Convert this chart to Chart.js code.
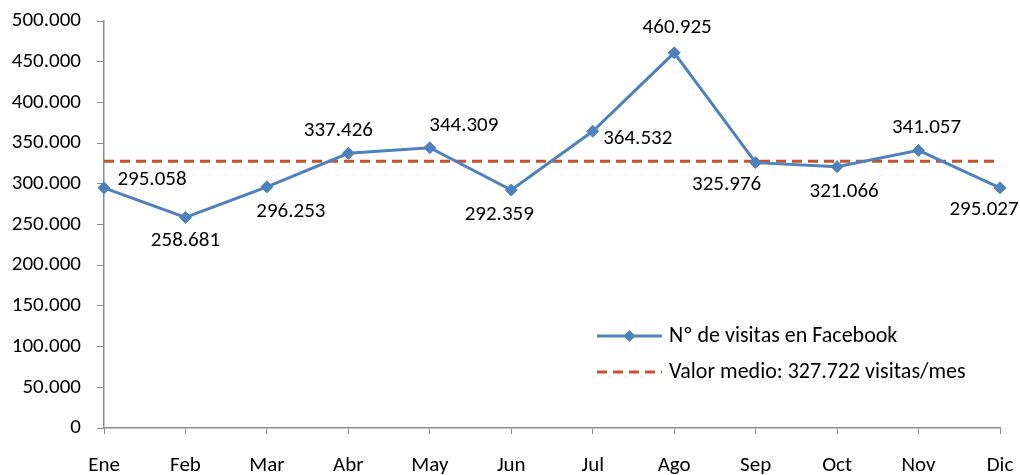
<!DOCTYPE html>
<html>
<head>
<meta charset="utf-8">
<script src="https://cdn.jsdelivr.net/npm/chart.js@4/dist/chart.umd.min.js"></script>
<style>
  html, body { margin: 0; padding: 0; background: #fff; }
  #wrap { width: 1020px; height: 475px; position: relative; }
</style>
</head>
<body>
<div id="wrap"><canvas id="c" width="1020" height="475"></canvas></div>
<script>
const categories = ['Ene', 'Feb', 'Mar', 'Abr', 'May', 'Jun', 'Jul', 'Ago', 'Sep', 'Oct', 'Nov', 'Dic'];
const visitas = [295058, 258681, 296253, 337426, 344309, 292359, 364532, 460925, 325976, 321066, 341057, 295027];
const valorMedio = [327722, 327722, 327722, 327722, 327722, 327722, 327722, 327722, 327722, 327722, 327722, 327722];
const seriesLabels = ['N\u00BA de visitas en Facebook', 'Valor medio: 327.722 visitas/mes'];
const yMin = 0, yMax = 500000, yStep = 50000;

// label placement offsets (pixels) relative to each point
const labelOffsets = [[48, -8], [0, 23], [24, 25], [-10, -23], [34, -22], [-12, 25], [45, 7], [3, -25], [-29, 22], [7, 25], [8, -23], [-16, 22]];

const FONT = '"Carlito", "Liberation Sans", Arial, sans-serif';
const FSIZE = 21;
const LSIZE = 22;
const BLUE = '#4F81BD';
const RED = '#C9522B';
const AXIS = '#8C8C8C';

function fmt(v) {
  return String(Math.round(v)).replace(/\B(?=(\d{3})+(?!\d))/g, '.');
}

const dataLabelPlugin = {
  id: 'dataLabels',
  afterDatasetsDraw(chart) {
    const ctx = chart.ctx;
    const meta = chart.getDatasetMeta(0);
    ctx.save();
    ctx.font = FSIZE + 'px ' + FONT;
    ctx.fillStyle = '#000';
    ctx.textAlign = 'center';
    ctx.textBaseline = 'middle';
    meta.data.forEach((pt, i) => {
      const off = labelOffsets[i];
      ctx.fillText(fmt(visitas[i]), pt.x + off[0], pt.y + off[1]);
    });
    ctx.restore();
  }
};

const legendPlugin = {
  id: 'customLegend',
  afterDraw(chart) {
    const ctx = chart.ctx;
    const x0 = 597, x1 = 662, tx = 669;
    const ys = [336, 372];
    ctx.save();
    ctx.strokeStyle = BLUE; ctx.lineWidth = 3; ctx.setLineDash([]);
    ctx.beginPath(); ctx.moveTo(x0, ys[0]); ctx.lineTo(x1, ys[0]); ctx.stroke();
    const cx = (x0 + x1) / 2, r = 6;
    ctx.fillStyle = BLUE;
    ctx.beginPath(); ctx.moveTo(cx - r, ys[0]); ctx.lineTo(cx, ys[0] - r); ctx.lineTo(cx + r, ys[0]); ctx.lineTo(cx, ys[0] + r); ctx.closePath(); ctx.fill();
    ctx.strokeStyle = RED; ctx.lineWidth = 3; ctx.setLineDash([10, 6]);
    ctx.beginPath(); ctx.moveTo(x0, ys[1]); ctx.lineTo(x1, ys[1]); ctx.stroke();
    ctx.setLineDash([]);
    ctx.font = LSIZE + 'px ' + FONT;
    ctx.fillStyle = '#000';
    ctx.textAlign = 'left';
    ctx.textBaseline = 'middle';
    ctx.fillText(chart.data.datasets[0].label, tx, ys[0]);
    ctx.fillText(chart.data.datasets[1].label, tx, ys[1]);
    ctx.restore();
  }
};

new Chart(document.getElementById('c'), {
  type: 'line',
  data: {
    labels: categories,
    datasets: [
      {
        label: seriesLabels[0],
        data: visitas,
        borderColor: BLUE,
        backgroundColor: BLUE,
        borderWidth: 3,
        pointStyle: 'rectRot',
        pointRadius: 6,
        pointBorderWidth: 1,
        pointBackgroundColor: BLUE,
        pointBorderColor: BLUE,
        tension: 0,
        order: 1
      },
      {
        label: seriesLabels[1],
        data: valorMedio,
        borderColor: RED,
        borderWidth: 3,
        borderDash: [10, 6],
        pointRadius: 0,
        tension: 0,
        order: 2
      }
    ]
  },
  options: {
    responsive: false,
    animation: false,
    events: [],
    layout: { padding: { top: 21, right: 20, left: 0, bottom: 0 } },
    plugins: { legend: { display: false }, tooltip: { enabled: false } },
    scales: {
      x: {
        offset: false,
        grid: { display: true, drawOnChartArea: false, drawTicks: true, tickLength: 6, color: AXIS, lineWidth: 1 },
        border: { display: true, color: AXIS, width: 1.5 },
        ticks: { color: '#000', font: { family: FONT, size: FSIZE }, padding: 19, maxRotation: 0, autoSkip: false },
        afterFit(scale) { scale.height = 47; scale.paddingLeft = 0; scale.paddingRight = 0; }
      },
      y: {
        min: yMin, max: yMax,
        grid: { display: true, drawOnChartArea: false, drawTicks: true, tickLength: 7, color: AXIS, lineWidth: 1 },
        border: { display: true, color: AXIS, width: 1.5 },
        ticks: { stepSize: yStep, color: '#000', font: { family: FONT, size: FSIZE }, padding: 16, callback: (v) => fmt(v) },
        afterFit(scale) { scale.width = 104; scale.paddingTop = 0; scale.paddingBottom = 0; }
      }
    }
  },
  plugins: [dataLabelPlugin, legendPlugin]
});
</script>
</body>
</html>
